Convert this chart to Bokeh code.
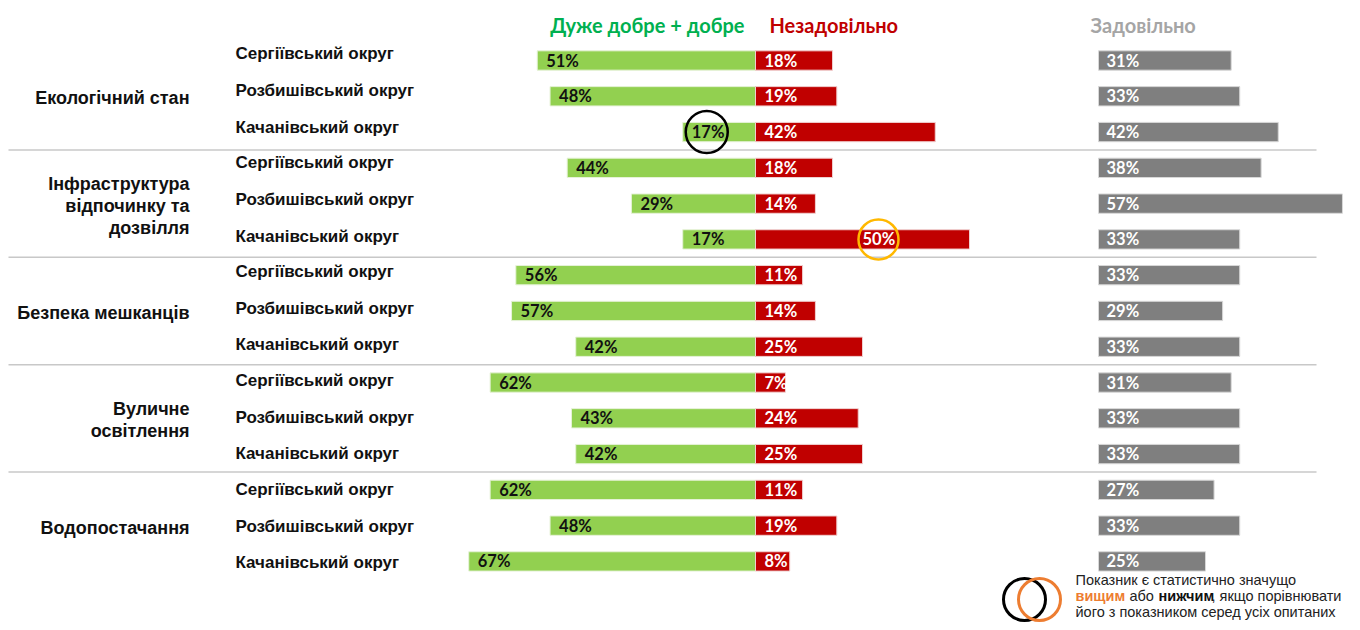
from bokeh.plotting import figure
from bokeh.models import Range1d
from bokeh.core.properties import value
from bokeh.embed import file_html
from bokeh.resources import INLINE

# ---------------- data ----------------
groups = [["Екологічний стан"],
          ["Інфраструктура", "відпочинку та", "дозвілля"],
          ["Безпека мешканців"],
          ["Вуличне", "освітлення"],
          ["Водопостачання"]]
districts = ["Сергіївський округ", "Розбишівський округ", "Качанівський округ"]
good = [51, 48, 17, 44, 29, 17, 56, 57, 42, 62, 43, 42, 62, 48, 67]
bad = [18, 19, 42, 18, 14, 50, 11, 14, 25, 7, 24, 25, 11, 19, 8]
satisfactory = [31, 33, 42, 38, 57, 33, 33, 29, 33, 31, 33, 33, 27, 33, 25]
low_flag = [0, 0, 1, 0, 0, 0, 0, 0, 0, 0, 0, 0, 0, 0, 0]
high_flag = [0, 0, 0, 0, 0, 1, 0, 0, 0, 0, 0, 0, 0, 0, 0]
headers = ["Дуже добре + добре", "Незадовільно", "Задовільно"]

# ---------------- layout helpers ----------------
W, H = 1352, 622
ORIGIN = 0
PX_PER_PCT = 4.28
CENTER_PX = 755.0
ROW0_PX = 60.0
ROW_PX = 35.78
GRAY_OFFSET = (1098 - CENTER_PX) / PX_PER_PCT


def X(px):
    return (px - CENTER_PX) / PX_PER_PCT


def Y(py):
    return (py - ROW0_PX) / ROW_PX


GREEN = "#92D050"
RED = "#C00000"
GRAY = "#7F7F7F"
FONT_NUM = value("Lato")
FONT_TXT = value("Liberation Sans")
NUM_SIZE = "16.5px"

p = figure(width=W, height=H, output_backend="svg", toolbar_location=None,
           x_range=Range1d(X(ORIGIN), X(ORIGIN + W)), y_range=Range1d(Y(ORIGIN + H), Y(ORIGIN)),
           x_axis_location=None, y_axis_location=None, min_border=0)
p.grid.visible = False
p.outline_line_color = None
p.background_fill_color = "white"
p.border_fill_color = "white"

n = len(good)
rows = list(range(n))

# separators
sep_y = [3 * g - 0.5 for g in range(1, len(groups))]
p.segment(x0=[X(8)] * len(sep_y), x1=[X(1316)] * len(sep_y), y0=sep_y, y1=sep_y,
          line_color="#C8C8C8", line_width=1.5)

bh = 0.54
p.hbar(y=rows, left=[-g for g in good], right=0, height=bh, fill_color=GREEN,
       line_color="#E6F2D8", line_width=1)
p.hbar(y=rows, left=0, right=bad, height=bh, fill_color=RED,
       line_color="#F0D0D0", line_width=1)
p.hbar(y=rows, left=GRAY_OFFSET, right=[GRAY_OFFSET + s for s in satisfactory], height=bh,
       fill_color=GRAY, line_color="#D8D8D8", line_width=1)

# value labels
p.text(x=[-g for g in good], y=rows, text=[f"{g}%" for g in good], x_offset=9,
       text_font=FONT_NUM, text_font_style="bold", text_font_size=NUM_SIZE,
       text_color="#111111", text_baseline="middle", text_align="left")
red_x = [b / 2 if h else 0 for b, h in zip(bad, high_flag)]
red_off = [0 if h else 9 for h in high_flag]
p.text(x=red_x, y=rows, text=[f"{b}%" for b in bad], x_offset=red_off,
       text_font=FONT_NUM, text_font_style="bold", text_font_size=NUM_SIZE,
       text_color="white", text_baseline="middle", text_align="left")
p.text(x=[GRAY_OFFSET] * n, y=rows, text=[f"{s}%" for s in satisfactory], x_offset=8,
       text_font=FONT_NUM, text_font_style="bold", text_font_size=NUM_SIZE,
       text_color="white", text_baseline="middle", text_align="left")

# significance circles
lx = [-g + 24 / PX_PER_PCT for g, f in zip(good, low_flag) if f]
ly = [r for r, f in zip(rows, low_flag) if f]
p.scatter(x=lx, y=ly, size=42, marker="circle", fill_color=None,
          line_color="black", line_width=2.5)
hx = [b / 2 + 16 / PX_PER_PCT for b, f in zip(bad, high_flag) if f]
hy = [r for r, f in zip(rows, high_flag) if f]
p.scatter(x=hx, y=hy, size=40, marker="circle", fill_color=None,
          line_color="#FFB800", line_width=2.5)

# district labels
d_y, d_t = [], []
for g in range(len(groups)):
    for j, d in enumerate(districts):
        r = 3 * g + j
        d_y.append(r + (-7 + 1.6 * g + 1.0 * j) / ROW_PX)
        d_t.append(d)
p.text(x=[X(235)] * len(d_y), y=d_y, text=d_t, text_font=FONT_TXT,
       text_font_style="bold", text_font_size="17px", text_color="#111111",
       text_baseline="middle", text_align="left")

# group labels
g_y, g_t = [], []
for g, lines in enumerate(groups):
    mid = 3 * g + 1 + 2 / ROW_PX
    k = len(lines)
    for i, line in enumerate(lines):
        g_y.append(mid + (i - (k - 1) / 2) * 22 / ROW_PX)
        g_t.append(line)
p.text(x=[X(189)] * len(g_y), y=g_y, text=g_t, text_font=FONT_TXT,
       text_font_style="bold", text_font_size="18px", text_color="#111111",
       text_baseline="middle", text_align="right")

# headers
p.text(x=[X(744)], y=[Y(24)], text=[headers[0]], text_font=FONT_NUM, text_font_style="bold",
       text_font_size="20px", text_color="#00B050", text_baseline="middle", text_align="right")
p.text(x=[X(769)], y=[Y(24)], text=[headers[1]], text_font=FONT_NUM, text_font_style="bold",
       text_font_size="20px", text_color=RED, text_baseline="middle", text_align="left")
p.text(x=[X(1090)], y=[Y(24)], text=[headers[2]], text_font=FONT_NUM, text_font_style="bold",
       text_font_size="20px", text_color="#A5A5A5", text_baseline="middle", text_align="left")

# legend
LY = 595
p.scatter(x=[X(1024)], y=[Y(LY + 4)], size=42, marker="circle", fill_color=None,
          line_color="black", line_width=3)
p.scatter(x=[X(1039)], y=[Y(LY + 4)], size=42, marker="circle", fill_color=None,
          line_color="#ED7D31", line_width=3)
leg_font = dict(text_font=FONT_TXT, text_font_size="14.5px", text_baseline="middle",
                text_align="left")
p.text(x=[X(1075)], y=[Y(LY - 16)], text=["Показник є статистично значущо"],
       text_color="#222222", **leg_font)
p.text(x=[X(1075)], y=[Y(LY)], text=["вищим"], text_color="#ED7D31",
       text_font_style="bold", **leg_font)
p.text(x=[X(1129)], y=[Y(LY)], text=["або"], text_color="#222222", **leg_font)
p.text(x=[X(1158)], y=[Y(LY)], text=["нижчим"], text_color="#111111",
       text_font_style="bold", **leg_font)
p.text(x=[X(1211)], y=[Y(LY)], text=[", якщо порівнювати"], text_color="#222222", **leg_font)
p.text(x=[X(1075)], y=[Y(LY + 16)], text=["його з показником серед усіх опитаних"],
       text_color="#222222", **leg_font)

open("out.html", "w").write(file_html(p, INLINE))
